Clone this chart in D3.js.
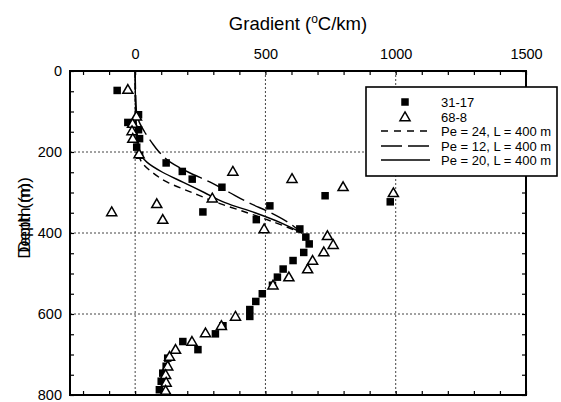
<!DOCTYPE html>
<html><head><meta charset="utf-8">
<script src="https://cdn.jsdelivr.net/npm/d3@7/dist/d3.min.js"></script>
<style>body{margin:0;background:#fff;} svg{display:block;} text{font-family:"Liberation Sans",Arial,sans-serif;}</style>
</head><body>
<svg id="c" width="561" height="402"></svg>
<script>
// gradient (°C/km), depth (m)
const well3117 = [[-69,48],[13,108],[-28,127],[13,145],[17,167],[6,188],[17,208],
 [119,227],[181,248],[219,267],[333,287],[260,348],[465,367],
 [517,333],[729,308],[979,323],
 [632,390],[655,410],[668,427],[647,448],[606,468],[568,489],[546,509],[527,529],[488,550],[463,569],[440,589],[440,606],
 [337,629],[308,649],[183,668],[241,688],[125,709],[119,729],[106,746],[100,766],[93,787]];
const well688 = [[-28,46],[5,112],[-10,130],[-12,148],[-9,167],[15,205],
 [375,248],[602,266],[798,286],[991,301],[296,314],[83,328],[-90,348],[106,367],[495,390],
 [738,407],[760,429],[724,447],[681,468],[662,489],[590,509],[529,529],
 [385,606],[331,629],[270,647],[218,668],[155,688],[132,705],[125,729],[117,750],[119,769],[117,789]];
const pe24 = [[0,0],[1,100],[4,150],[12,200],[25,225],[65,250],[125,275],[218,300],[315,325],[430,350],[540,375],[640,400]];
const pe12 = [[0,0],[5,100],[15,125],[36,150],[62,175],[92,200],[135,225],[205,250],[290,275],[362,300],[435,325],[520,350],[590,375],[640,400]];
const pe20 = [[0,0],[2,100],[7,150],[18,200],[45,225],[105,250],[185,275],[265,300],[345,325],[460,350],[560,375],[640,400]];
const xTickLabels = [0,500,1000,1500];
const yTickLabels = [0,200,400,600,800];
const legendLabels = ["31-17","68-8","Pe = 24, L = 400 m","Pe = 12, L = 400 m","Pe = 20, L = 400 m"];

const svg = d3.select("#c");
const L=70,R=526,T=71,B=395;
const x = d3.scaleLinear().domain([-250,1500]).range([L,R]);
const y = d3.scaleLinear().domain([0,800]).range([T,B]);

// grid
const g = svg.append("g");
[0,500,1000].forEach(v=>g.append("line").attr("x1",x(v)).attr("x2",x(v)).attr("y1",T).attr("y2",B)
  .attr("stroke","#444").attr("stroke-width",1).attr("stroke-dasharray","2,2"));
[200,400,600].forEach(v=>g.append("line").attr("y1",y(v)).attr("y2",y(v)).attr("x1",L).attr("x2",R)
  .attr("stroke","#444").attr("stroke-width",1).attr("stroke-dasharray","2,2"));

// axes with inward ticks
const xt = d3.range(-200,1501,100);
const yt = d3.range(0,801,50);
const topAx = d3.axisTop(x).tickValues(xt).tickSize(-4).tickPadding(12)
  .tickFormat(d=>xTickLabels.includes(d)?d:"");
const botAx = d3.axisBottom(x).tickValues(xt).tickSize(-4).tickFormat("");
const leftAx = d3.axisLeft(y).tickValues(yt).tickSize(-4).tickPadding(8)
  .tickFormat(d=>yTickLabels.includes(d)?d:"");
const rightAx = d3.axisRight(y).tickValues(yt).tickSize(-4).tickFormat("");
function style(sel){sel.select(".domain").remove();sel.selectAll("line").attr("stroke","#000").attr("stroke-width",1.2);
  sel.selectAll("text").attr("font-size",14.5).attr("font-family","Liberation Sans, Arial, sans-serif").attr("fill","#000");}
svg.append("g").attr("transform",`translate(0,${T})`).call(topAx).call(style);
svg.append("g").attr("transform",`translate(0,${B})`).call(botAx).call(style);
svg.append("g").attr("transform",`translate(${L},0)`).call(leftAx).call(style);
svg.append("g").attr("transform",`translate(${R},0)`).call(rightAx).call(style);
svg.append("rect").attr("x",L).attr("y",T).attr("width",R-L).attr("height",B-T)
  .attr("fill","none").attr("stroke","#000").attr("stroke-width",2);

// curves
const line = d3.line().x(d=>x(d[0])).y(d=>y(d[1])).curve(d3.curveMonotoneY);
const curves = [[pe24,"7,5"],[pe12,"18,6"],[pe20,null]];
curves.forEach(([d,dash])=>{
  const p = svg.append("path").datum(d).attr("d",line).attr("fill","none").attr("stroke","#000").attr("stroke-width",1.4);
  if(dash) p.attr("stroke-dasharray",dash);
});

// markers
const sq = 7.5;
svg.append("g").selectAll("rect").data(well3117).join("rect")
  .attr("x",d=>x(d[0])-sq/2).attr("y",d=>y(d[1])-sq/2).attr("width",sq).attr("height",sq).attr("fill","#000");
const tri = d3.symbol().type(d3.symbolTriangle).size(44);
svg.append("g").selectAll("path").data(well688).join("path")
  .attr("transform",d=>`translate(${x(d[0])},${y(d[1])+0.8})`).attr("d",tri)
  .attr("fill","#fff").attr("stroke","#000").attr("stroke-width",1.5);

// legend
const lg = svg.append("g");
lg.append("rect").attr("x",366).attr("y",87).attr("width",191).attr("height",89)
  .attr("fill","#fff").attr("stroke","#000").attr("stroke-width",1.6);
const rows=[102,117,131,146,160];
legendLabels.forEach((t,i)=>lg.append("text").attr("x",441).attr("y",rows[i]+5).attr("font-size",13).text(t));
lg.append("rect").attr("x",405-sq/2).attr("y",rows[0]-sq/2).attr("width",sq).attr("height",sq).attr("fill","#000");
lg.append("path").attr("transform",`translate(405,${rows[1]+0.8})`).attr("d",tri).attr("fill","#fff").attr("stroke","#000").attr("stroke-width",1.5);
[["7,6"],["21,6"],[null]].forEach(([dash],i)=>{
  const l=lg.append("line").attr("x1",381).attr("x2",430).attr("y1",rows[i+2]).attr("y2",rows[i+2]).attr("stroke","#000").attr("stroke-width",1.4);
  if(dash) l.attr("stroke-dasharray",dash);
});

// titles
const title = svg.append("text").attr("x",(L+R)/2).attr("y",30).attr("text-anchor","middle").attr("font-size",18.5);
title.append("tspan").text("Gradient (");
title.append("tspan").attr("font-size",12).attr("dy",-7).text("o");
title.append("tspan").attr("dy",7).text("C/km)");
[221,215].forEach(c=>svg.append("text").attr("transform",`translate(30,${c}) rotate(-90)`).attr("text-anchor","middle")
  .attr("font-size",17).text("Depth (m)"));
</script>
</body></html>
